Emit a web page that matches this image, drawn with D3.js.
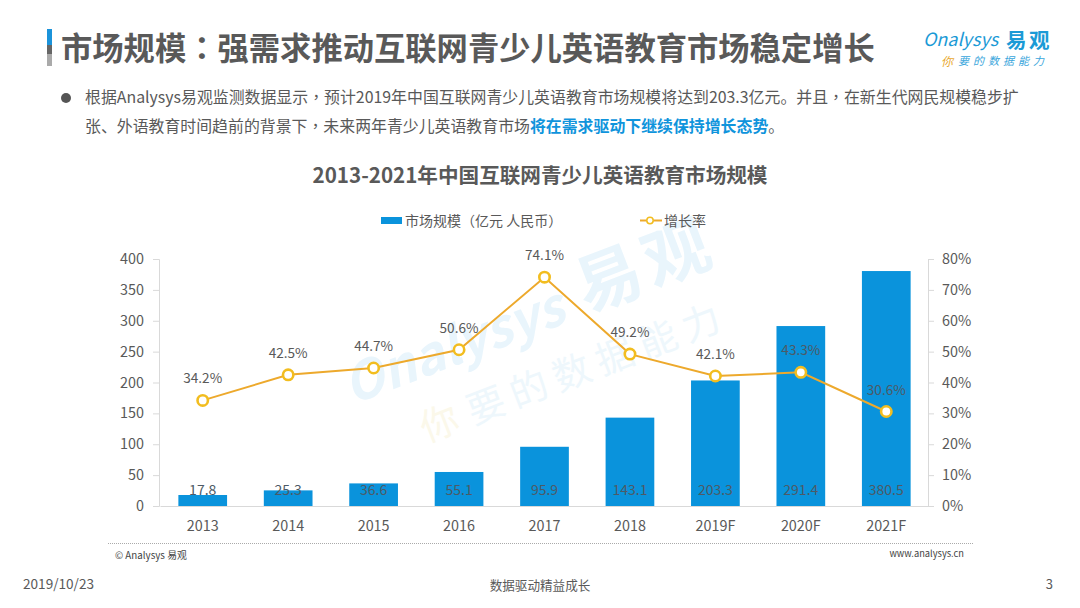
<!DOCTYPE html>
<html>
<head>
<meta charset="utf-8">
<script src="https://cdn.jsdelivr.net/npm/d3@7"></script>
<style>
html,body{margin:0;padding:0;background:#fff;}
text{font-family:"Noto Sans CJK SC","Noto Sans",sans-serif;}
</style>
</head>
<body>
<div id="chart"></div>
<script>
// データ
var years=["2013","2014","2015","2016","2017","2018","2019F","2020F","2021F"];
var market=[17.8,25.3,36.6,55.1,95.9,143.1,203.3,291.4,380.5];
var rate=[34.2,42.5,44.7,50.6,74.1,49.2,42.1,43.3,30.6];
var leftTicks=[0,50,100,150,200,250,300,350,400];
var rightTicks=[0,10,20,30,40,50,60,70,80];

var titleText="市场规模：强需求推动互联网青少儿英语教育市场稳定增长";
var chartTitle="2013-2021年中国互联网青少儿英语教育市场规模";
var line1="根据Analysys易观监测数据显示，预计2019年中国互联网青少儿英语教育市场规模将达到203.3亿元。并且，在新生代网民规模稳步扩";
var line2a="张、外语教育时间趋前的背景下，未来两年青少儿英语教育市场";
var line2b="将在需求驱动下继续保持增长态势";
var line2c="。";

var gray="#595959",blue="#0a93dc",orange="#eda92c",yellow="#f2bd1f";

var svg=d3.select("#chart").append("svg").attr("width",1080).attr("height",608).style("display","block");

//，：はセンター寄せの字形にする
function addText(parent,str){
    str.split(/([，：])/).forEach(function(s){
        if(!s) return;
        var sp=parent.append("tspan").text(s);
        if(s==="，"||s==="：") sp.style("font-family",'"Noto Sans CJK TC"');
    });
}

//ヘッダー
svg.append("rect").attr("x",47).attr("y",29).attr("width",5).attr("height",16).attr("fill","#1b93da");
svg.append("rect").attr("x",47).attr("y",45).attr("width",5).attr("height",9).attr("fill","#666");
svg.append("rect").attr("x",47).attr("y",54).attr("width",5).attr("height",12).attr("fill","#aaa");
addText(svg.append("text").attr("x",61).attr("y",60).attr("font-size",31.3).attr("font-weight",700).attr("fill",gray),titleText);

//ロゴ
svg.append("text").attr("x",923).attr("y",46).attr("font-size",18).attr("font-style","italic").attr("fill","#1b9ad6").attr("font-family","Lato").text("Onalysys");
svg.append("text").attr("x",1006).attr("y",48).attr("font-size",20.5).attr("font-weight",700).attr("letter-spacing",2.5).attr("fill","#1b9ad6").text("易观");
svg.append("text").attr("x",941).attr("y",66).attr("font-size",12).attr("font-style","italic").attr("fill","#e9a92f").text("你");
svg.append("text").attr("x",958).attr("y",65).attr("font-size",11).attr("font-style","italic").attr("letter-spacing",4).attr("fill","#3aa6dc").text("要的数据能力");

//本文
svg.append("circle").attr("cx",66).attr("cy",98).attr("r",5).attr("fill","#555");
addText(svg.append("text").attr("x",85).attr("y",103).attr("font-size",15.9).attr("fill",gray),line1);
var t2=svg.append("text").attr("x",85).attr("y",132).attr("font-size",15.9).attr("fill",gray);
addText(t2,line2a);
t2.append("tspan").attr("fill","#0f94dc").attr("font-weight",700).text(line2b);
t2.append("tspan").text(line2c);

//グラフタイトル
svg.append("text").attr("x",540).attr("y",182.5).attr("text-anchor","middle").attr("font-size",20.6).attr("font-weight",700).attr("fill",gray).text(chartTitle);

//透かし
var wm=svg.append("g").attr("transform","translate(352,405) rotate(-21)");
wm.append("text").attr("x",0).attr("y",0).attr("font-size",52).attr("font-style","italic").attr("font-family","Lato").attr("font-weight",700).attr("fill","#e9f5fc").text("Onalysys");
wm.append("text").attr("x",252).attr("y",-2).attr("font-size",66).attr("font-weight",700).attr("letter-spacing",6).attr("fill","#e9f5fc").text("易观");
wm.append("text").attr("x",56).attr("y",62).attr("font-size",38).attr("letter-spacing",8).attr("fill","#fbf8ea").text("你");
wm.append("text").attr("x",106).attr("y",62).attr("font-size",38).attr("letter-spacing",8).attr("fill","#eef7fc").text("要的数据能力");

//凡例
svg.append("rect").attr("x",381).attr("y",217).attr("width",21).attr("height",7).attr("fill",blue);
svg.append("text").attr("x",405).attr("y",226).attr("font-size",14).attr("fill",gray).text("市场规模（亿元 人民币）");
svg.append("line").attr("x1",640).attr("x2",662).attr("y1",220.5).attr("y2",220.5).attr("stroke",orange).attr("stroke-width",2);
svg.append("circle").attr("cx",650).attr("cy",220.5).attr("r",3.2).attr("fill","#fff").attr("stroke",yellow).attr("stroke-width",1.5);
svg.append("text").attr("x",664).attr("y",226).attr("font-size",14).attr("fill",gray).text("增长率");

//スケール
var x=d3.scaleBand().domain(years).range([160,929]).paddingInner(0.43).paddingOuter(0.215);
var yL=d3.scaleLinear().domain([0,400]).range([506,259]);
var yR=d3.scaleLinear().domain([0,80]).range([506,259]);
var cx=function(d){return x(d)+x.bandwidth()/2;};

//軸
var axL=svg.append("g").attr("transform","translate(159,0)").call(d3.axisLeft(yL).tickValues(leftTicks).tickSize(6).tickPadding(9));
var axR=svg.append("g").attr("transform","translate(928,0)").call(d3.axisRight(yR).tickValues(rightTicks).tickSize(6).tickPadding(8).tickFormat(function(d){return d+"%";}));
var axB=svg.append("g").attr("transform","translate(0,506)").call(d3.axisBottom(x).tickSize(0).tickPadding(15));
[axL,axR,axB].forEach(function(a){
    a.selectAll("path").attr("stroke","#d9d9d9");
    a.selectAll("line").attr("stroke","#d9d9d9");
    a.selectAll("text").attr("font-size",14.4).attr("fill",gray).style("font-family",'"Noto Sans CJK SC"');
});

//棒
svg.append("g").selectAll("rect").data(years).enter().append("rect")
    .attr("x",function(d){return x(d);})
    .attr("width",x.bandwidth())
    .attr("y",function(d,i){return yL(market[i]);})
    .attr("height",function(d,i){return yL(0)-yL(market[i]);})
    .attr("fill",blue);

//棒の値
svg.append("g").selectAll("text").data(years).enter().append("text")
    .attr("x",cx).attr("y",495).attr("text-anchor","middle")
    .attr("font-size",14).attr("fill","#4d5a66")
    .text(function(d,i){return market[i];});

//折れ線
var line=d3.line().x(function(d,i){return cx(years[i]);}).y(function(d){return yR(d);});
svg.append("path").datum(rate).attr("d",line).attr("fill","none").attr("stroke",orange).attr("stroke-width",2);
svg.append("g").selectAll("circle").data(rate).enter().append("circle")
    .attr("cx",function(d,i){return cx(years[i]);})
    .attr("cy",function(d){return yR(d);})
    .attr("r",5.2).attr("fill","#fff").attr("stroke",yellow).attr("stroke-width",2.6);
svg.append("g").selectAll("text").data(rate).enter().append("text")
    .attr("x",function(d,i){return cx(years[i]);})
    .attr("y",function(d){return yR(d)-17;})
    .attr("text-anchor","middle").attr("font-size",13.6)
    .attr("fill",function(d,i){return i>=7?"#4d5a66":gray;})
    .text(function(d){return d.toFixed(1)+"%";});

//フッター
svg.append("line").attr("x1",108).attr("x2",973).attr("y1",543.5).attr("y2",543.5).attr("stroke","#aaa").attr("stroke-dasharray","1 1");
svg.append("text").attr("x",115).attr("y",559).attr("font-size",9.8).attr("fill","#444").text("© Analysys 易观");
svg.append("text").attr("x",964).attr("y",557).attr("text-anchor","end").attr("font-size",9.3).attr("fill","#444").text("www.analysys.cn");
svg.append("text").attr("x",23).attr("y",589).attr("font-size",13.6).attr("fill",gray).text("2019/10/23");
svg.append("text").attr("x",540).attr("y",590).attr("text-anchor","middle").attr("font-size",12.6).attr("fill",gray).text("数据驱动精益成长");
svg.append("text").attr("x",1053).attr("y",589).attr("text-anchor","end").attr("font-size",13).attr("fill",gray).text("3");
</script>
</body>
</html>
